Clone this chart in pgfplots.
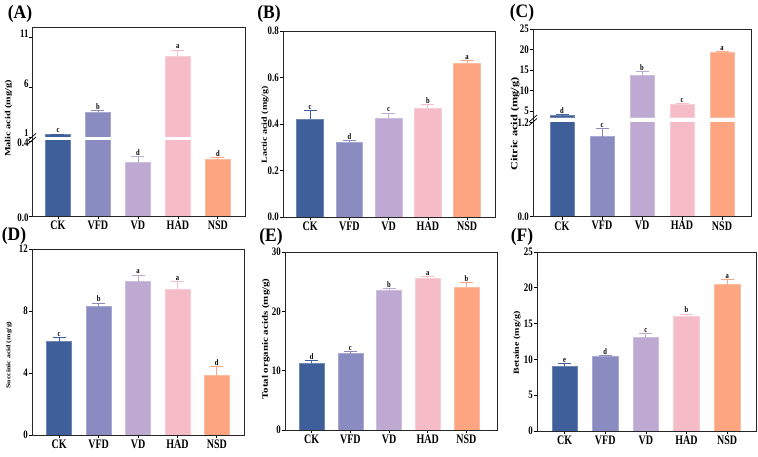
\documentclass[border=0pt]{standalone}
\usepackage{fontspec}
\setmainfont{Liberation Serif}
\newfontfamily\hf{Liberation Serif}[FakeStretch=0.77]
\newfontfamily\vf{Liberation Serif}[FakeStretch=1.3]
\newfontfamily\pf{Liberation Serif}[FakeStretch=0.92]
\usepackage{pgfplots}
\usepackage{pgfplotstable}
\pgfplotsset{compat=1.18}

\definecolor{cCK}{HTML}{3E5F9A}
\definecolor{cVFD}{HTML}{8A8CC1}
\definecolor{cVD}{HTML}{BDA9D1}
\definecolor{cHAD}{HTML}{F5BCC8}
\definecolor{cNSD}{HTML}{FCA580}

\pgfplotstableread{
x y e lab
0 1.25 0.05 c
1 3.5 0.15 b
2 0.285 0.033 d
3 9.1 0.6 a
4 0.30 0.014 d
}\tabA
\pgfplotstableread{
x y e lab
0 0.42 0.039 c
1 0.321 0.007 d
2 0.424 0.023 c
3 0.469 0.014 b
4 0.66 0.013 a
}\tabB
\pgfplotstableread{
x y e lab
0 4.0 0.1 d
1 1.02 0.11 c
2 13.8 0.8 b
3 6.65 0.15 c
4 19.3 0.25 a
}\tabC
\pgfplotstableread{
x y e lab
0 6.03 0.25 c
1 8.28 0.24 b
2 9.9 0.42 a
3 9.42 0.48 a
4 3.87 0.54 d
}\tabD
\pgfplotstableread{
x y e lab
0 11.27 0.5 d
1 12.89 0.4 c
2 23.55 0.35 b
3 25.57 0.3 a
4 24.06 0.85 b
}\tabE
\pgfplotstableread{
x y e lab
0 9.01 0.42 e
1 10.41 0.14 d
2 13.15 0.47 c
3 16.0 0.33 b
4 20.43 0.75 a
}\tabF

\newcommand\onebar[4]{%
\addplot[ybar, bar shift=0pt, fill=#1, draw=#1!75!white, line width=0.6pt,
  restrict x to domain=#2, #4,
  error bars/.cd, y dir=plus, y explicit,
  error bar style={#1, line width=0.8pt},
  error mark options={#1, rotate=90, mark size=6.5pt, line width=0.8pt}]
  table[x=x, y=y, y error=e] {#3};}
\newcommand\fivebars[2][]{%
\onebar{cCK}{-0.3:0.3}{#2}{#1}
\onebar{cVFD}{0.7:1.3}{#2}{#1}
\onebar{cVD}{1.7:2.3}{#2}{#1}
\onebar{cHAD}{2.7:3.3}{#2}{#1}
\onebar{cNSD}{3.7:4.3}{#2}{#1}}
\newcommand\letters[2][]{%
\addplot[ybar, bar shift=0pt, draw=none, fill=none, nodes near coords,
  point meta=explicit symbolic,
  nodes near coords style={font=\hf\bfseries\fontsize{8.5}{9}\selectfont, anchor=south, inner sep=0.8pt, text=black}, #1]
  table[x=x, y expr=\thisrow{y}+\thisrow{e}, meta=lab] {#2};}

\pgfplotsset{
  panel/.style={scale only axis, anchor=south west, ybar, ymin=0,
    xtick={0,1,2,3,4}, xticklabels={CK,VFD,VD,HAD,NSD},
    tick align=outside, xtick pos=left, ytick pos=left,
    major tick length=3pt,
    axis line style={line width=0.7pt, black!85},
    tick style={line width=0.7pt, black},
    xticklabel style={font=\hf\bfseries\fontsize{13}{13}\selectfont, inner sep=1.5pt},
    yticklabel style={font=\hf\bfseries\fontsize{11.5}{12}\selectfont, inner sep=1pt},
    enlargelimits=false, clip=true},
  broken/.style={axis line style={draw=none}}
}

\begin{document}
\begin{tikzpicture}
\path[use as bounding box] (0,0) rectangle (758pt,457pt);

% ---------- (A) ----------
\begin{axis}[panel, broken, at={(32pt,241pt)}, width=213pt, height=75pt,
  xmin=-0.65, xmax=4.68, ymin=0, ymax=0.4, ytick={0,0.4}, yticklabels={0.0,0.4},
  bar width=0.625, yticklabel style={yshift=-1.5pt, inner sep=0.3pt}]
\fivebars{\tabA}
\letters[restrict y to domain=0:0.4]{\tabA}
\end{axis}
\begin{axis}[panel, broken, at={(32pt,320pt)}, width=213pt, height=110pt,
  xmin=-0.65, xmax=4.68, ymin=1, ymax=12, ytick={1,6,11},
  yticklabels={{\fontsize{10.5}{10.5}\selectfont 1},6,11},
  xtick=\empty, bar width=0.625,
  yticklabel style={yshift=3.5pt, inner sep=0.3pt}]
\fivebars[restrict y to domain=1:12]{\tabA}
\letters[restrict y to domain=1:12]{\tabA}
\end{axis}
\draw[line width=0.7pt, black!85] (32pt,241pt) rectangle (245pt,430pt);
\draw[line width=0.7pt] (28pt,313pt)--(36pt,320pt) (28pt,316.5pt)--(36pt,323.5pt);
\node[rotate=90, font=\vf\bfseries\fontsize{7.9}{8}\selectfont] at (8.5pt,338.5pt) {Malic acid (mg/g)};
\node[font=\pf\bfseries\fontsize{19}{19}\selectfont] at (20pt,443.5pt) {(A)};

% ---------- (B) ----------
\begin{axis}[panel, at={(283pt,240pt)}, width=212pt, height=186pt,
  xmin=-0.69, xmax=4.71, ymin=0, ymax=0.8, ytick={0,0.2,0.4,0.6,0.8},
  yticklabels={0.0,0.2,0.4,0.6,0.8}, bar width=0.68]
\fivebars{\tabB}
\letters{\tabB}
\end{axis}
\node[rotate=90, font=\vf\bfseries\fontsize{7.7}{8}\selectfont] at (265pt,332pt) {Lactic acid (mg/g)};
\node[font=\pf\bfseries\fontsize{19}{19}\selectfont] at (269pt,443pt) {(B)};

% ---------- (C) ----------
\begin{axis}[panel, broken, at={(533pt,240.3pt)}, width=218pt, height=94pt,
  xmin=-0.725, xmax=4.725, ymin=0, ymax=1.2, ytick={0,1.2}, yticklabels={0.0,1.2},
  bar width=0.61]
\fivebars{\tabC}
\letters[restrict y to domain=0:1.2]{\tabC}
\end{axis}
\begin{axis}[panel, broken, at={(533pt,339.7pt)}, width=218pt, height=88.3pt,
  xmin=-0.725, xmax=4.725, ymin=3.5, ymax=25, ytick={5,10,15,20,25}, yticklabels={5,10,15,20,25},
  xtick=\empty, bar width=0.61]
\fivebars[restrict y to domain=3.5:25]{\tabC}
\letters[restrict y to domain=3.5:25]{\tabC}
\end{axis}
\draw[line width=0.7pt, black!85] (533pt,240.3pt) rectangle (751pt,428pt);
\draw[line width=0.7pt] (529pt,331.5pt)--(537pt,338.5pt) (529pt,335pt)--(537pt,342pt);
\node[rotate=90, font=\vf\bfseries\fontsize{9.5}{10}\selectfont] at (515pt,333pt) {Citric acid (mg/g)};
\node[font=\pf\bfseries\fontsize{19}{19}\selectfont] at (522pt,444pt) {(C)};

% ---------- (D) ----------
\begin{axis}[panel, at={(32pt,22pt)}, width=212pt, height=186pt,
  xmin=-0.69, xmax=4.69, ymin=0, ymax=12, ytick={0,4,8,12}, yticklabels={0,4,8,12},
  bar width=0.63]
\fivebars{\tabD}
\letters{\tabD}
\end{axis}
\node[rotate=90, font=\vf\bfseries\fontsize{6}{6}\selectfont] at (9pt,102pt) {Succinic acid (mg/g)};
\node[font=\pf\bfseries\fontsize{19}{19}\selectfont] at (14pt,221pt) {(D)};

% ---------- (E) ----------
\begin{axis}[panel, at={(285pt,27pt)}, width=212pt, height=178pt,
  xmin=-0.69, xmax=4.79, ymin=0, ymax=30, ytick={0,10,20,30}, yticklabels={0,10,20,30},
  bar width=0.65]
\fivebars{\tabE}
\letters{\tabE}
\end{axis}
\node[rotate=90, font=\vf\bfseries\fontsize{8.4}{9}\selectfont] at (266pt,118pt) {Total organic acids (mg/g)};
\node[font=\pf\bfseries\fontsize{19}{19}\selectfont] at (271pt,220pt) {(E)};

% ---------- (F) ----------
\begin{axis}[panel, at={(537pt,26pt)}, width=219pt, height=179pt,
  xmin=-0.68, xmax=4.71, ymin=0, ymax=25, ytick={0,5,10,15,20,25}, yticklabels={0,5,10,15,20,25},
  bar width=0.63]
\fivebars{\tabF}
\letters{\tabF}
\end{axis}
\node[rotate=90, font=\vf\bfseries\fontsize{7.75}{8}\selectfont] at (517pt,114pt) {Betaine (mg/g)};
\node[font=\pf\bfseries\fontsize{19}{19}\selectfont] at (522pt,220pt) {(F)};
\end{tikzpicture}
\end{document}
